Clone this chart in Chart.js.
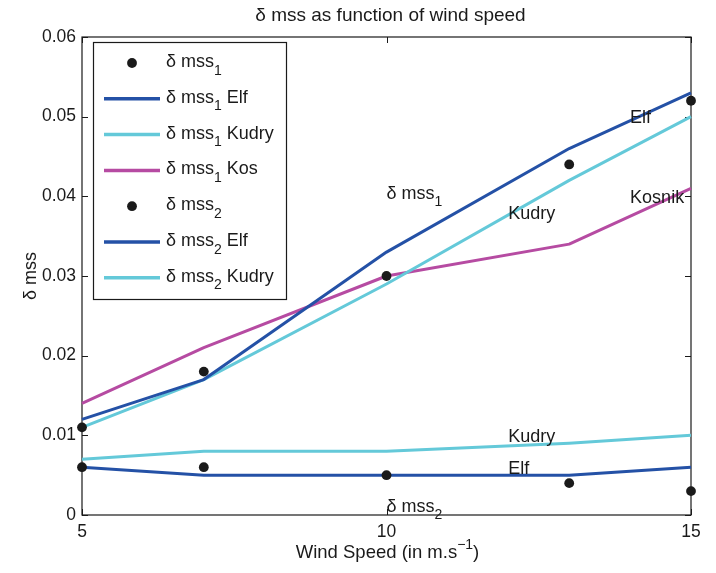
<!DOCTYPE html>
<html>
<head>
<meta charset="utf-8">
<script src="https://cdn.jsdelivr.net/npm/chart.js@4/dist/chart.umd.min.js"></script>
<style>
  html, body { margin: 0; padding: 0; background: #ffffff; }
  canvas { display: block; }
</style>
</head>
<body>
<canvas id="c" width="716" height="573"></canvas>
<script>
// Wind speed (m/s) at which each quantity is evaluated
const windSpeed = [5, 7, 10, 13, 15];

// Measured delta-mss, first and second components
const mss1Measured = [0.011, 0.018, 0.030, 0.044, 0.052];
const mss2Measured = [0.006, 0.006, 0.005, 0.004, 0.003];

// Model curves
const mss1Elf   = [0.012, 0.017, 0.033, 0.046, 0.053];
const mss1Kudry = [0.011, 0.017, 0.029, 0.042, 0.050];
const mss1Kos   = [0.014, 0.021, 0.030, 0.034, 0.041];
const mss2Elf   = [0.006, 0.005, 0.005, 0.005, 0.006];
const mss2Kudry = [0.007, 0.008, 0.008, 0.009, 0.010];

// Axis ticks
const xTicks = [5, 10, 15];
const yTicks = [0, 0.01, 0.02, 0.03, 0.04, 0.05, 0.06];

// In-plot labels: [x, y, segments]
const curveLabels = [
  [10, 0.0405, [{t: 'δ mss'}, {t: '1', sub: true}]],
  [12, 0.038, [{t: 'Kudry'}]],
  [14, 0.050, [{t: 'Elf'}]],
  [14, 0.040, [{t: 'Kosnik'}]],
  [12, 0.010, [{t: 'Kudry'}]],
  [12, 0.006, [{t: 'Elf'}]],
  [10, 0.00125, [{t: 'δ mss'}, {t: '2', sub: true}]]
];

const COL_ELF = '#2451a6';
const COL_KUDRY = '#64c9d9';
const COL_KOS = '#b64ba2';
const COL_DOT = '#1a1a1a';
const FONT = "'Liberation Sans', Arial, Helvetica, sans-serif";
const TEXT = '#1a1a1a';

const pts = ys => windSpeed.map((x, i) => ({x: x, y: ys[i]}));

function lineSet(label, ys, color) {
  return {
    label: label, data: pts(ys), borderColor: color, backgroundColor: color,
    borderWidth: 3, pointRadius: 0, tension: 0, clip: false, order: 1,
    borderJoinStyle: 'round'
  };
}
function dotSet(label, ys) {
  return {
    label: label, data: pts(ys), showLine: false, pointRadius: 4.9,
    pointBackgroundColor: COL_DOT, pointBorderColor: COL_DOT, pointBorderWidth: 0,
    clip: false, order: 0
  };
}

const datasets = [
  dotSet('mss1', mss1Measured),
  lineSet('mss1 Elf', mss1Elf, COL_ELF),
  lineSet('mss1 Kudry', mss1Kudry, COL_KUDRY),
  lineSet('mss1 Kos', mss1Kos, COL_KOS),
  dotSet('mss2', mss2Measured),
  lineSet('mss2 Elf', mss2Elf, COL_ELF),
  lineSet('mss2 Kudry', mss2Kudry, COL_KUDRY)
];

// Legend rows: segments and marker kind
const legendRows = [
  {kind: 'dot', seg: [{t: 'δ mss'}, {t: '1', sub: true}]},
  {kind: 'line', color: COL_ELF, seg: [{t: 'δ mss'}, {t: '1', sub: true}, {t: ' Elf'}]},
  {kind: 'line', color: COL_KUDRY, seg: [{t: 'δ mss'}, {t: '1', sub: true}, {t: ' Kudry'}]},
  {kind: 'line', color: COL_KOS, seg: [{t: 'δ mss'}, {t: '1', sub: true}, {t: ' Kos'}]},
  {kind: 'dot', seg: [{t: 'δ mss'}, {t: '2', sub: true}]},
  {kind: 'line', color: COL_ELF, seg: [{t: 'δ mss'}, {t: '2', sub: true}, {t: ' Elf'}]},
  {kind: 'line', color: COL_KUDRY, seg: [{t: 'δ mss'}, {t: '2', sub: true}, {t: ' Kudry'}]}
];

// Draws text with sub/superscript segments; y is the vertical middle of the main text
function drawRich(ctx, segs, x, y, align, size) {
  const small = Math.round(size * 0.76);
  let w = 0;
  segs.forEach(s => {
    ctx.font = ((s.sub || s.sup) ? small : size) + 'px ' + FONT;
    s.w = ctx.measureText(s.t).width;
    w += s.w;
  });
  let cx = align === 'center' ? x - w / 2 : (align === 'right' ? x - w : x);
  ctx.textAlign = 'left';
  ctx.textBaseline = 'alphabetic';
  const base = y + size * 0.36;
  segs.forEach(s => {
    ctx.font = ((s.sub || s.sup) ? small : size) + 'px ' + FONT;
    let by = base;
    if (s.sub) by = base + size * 0.42;
    if (s.sup) by = base - size * 0.45;
    ctx.fillText(s.t, cx, by);
    cx += s.w;
  });
}

const decor = {
  id: 'decor',
  beforeDraw(chart) {
    const ctx = chart.ctx;
    ctx.save();
    ctx.fillStyle = '#ffffff';
    ctx.fillRect(0, 0, chart.width, chart.height);
    ctx.restore();
  },
  beforeDatasetsDraw(chart) {
    const ctx = chart.ctx;
    const a = chart.chartArea;
    const xs = chart.scales.x, ys = chart.scales.y;
    ctx.save();
    ctx.strokeStyle = '#1a1a1a';
    ctx.lineWidth = 1.2;
    ctx.strokeRect(a.left, a.top, a.right - a.left, a.bottom - a.top);
    ctx.lineWidth = 1;
    const tl = 6;
    ctx.beginPath();
    xTicks.forEach(v => {
      const px = Math.round(xs.getPixelForValue(v)) + 0.5;
      ctx.moveTo(px, a.bottom); ctx.lineTo(px, a.bottom - tl);
      ctx.moveTo(px, a.top); ctx.lineTo(px, a.top + tl);
    });
    yTicks.forEach(v => {
      const py = Math.round(ys.getPixelForValue(v)) + 0.5;
      ctx.moveTo(a.left, py); ctx.lineTo(a.left + tl, py);
      ctx.moveTo(a.right, py); ctx.lineTo(a.right - tl, py);
    });
    ctx.stroke();
    ctx.restore();
  },
  afterDatasetsDraw(chart) {
    const ctx = chart.ctx;
    const a = chart.chartArea;
    const xs = chart.scales.x, ys = chart.scales.y;
    ctx.save();
    ctx.fillStyle = TEXT;

    // curve labels
    curveLabels.forEach(([x, y, segs]) => {
      drawRich(ctx, segs, xs.getPixelForValue(x), ys.getPixelForValue(y), 'left', 18);
    });

    // title
    drawRich(ctx, [{t: 'δ mss as function of wind speed'}], (a.left + a.right) / 2 + 4, 14, 'center', 19);

    // x axis title
    drawRich(ctx, [{t: 'Wind Speed (in m.s'}, {t: '−1', sup: true}, {t: ')'}], (a.left + a.right) / 2 + 1, 551, 'center', 18.5);

    // y axis title
    ctx.save();
    ctx.translate(30, (a.top + a.bottom) / 2);
    ctx.rotate(-Math.PI / 2);
    drawRich(ctx, [{t: 'δ mss'}], 0, 0, 'center', 18);
    ctx.restore();

    // legend box
    const bx = 93, by = 42, bw = 193, bh = 257;
    ctx.fillStyle = '#ffffff';
    ctx.fillRect(bx, by, bw, bh);
    ctx.strokeStyle = '#1a1a1a';
    ctx.lineWidth = 1.2;
    ctx.strokeRect(bx + 0.5, by + 0.5, bw, bh);
    legendRows.forEach((r, i) => {
      const cy = 61 + i * 35.8;
      if (r.kind === 'dot') {
        ctx.fillStyle = COL_DOT;
        ctx.beginPath();
        ctx.arc(132, cy + 2, 4.9, 0, Math.PI * 2);
        ctx.fill();
      } else {
        ctx.strokeStyle = r.color;
        ctx.lineWidth = 3.5;
        ctx.beginPath();
        ctx.moveTo(104, cy + 2);
        ctx.lineTo(160, cy + 2);
        ctx.stroke();
      }
      ctx.fillStyle = TEXT;
      drawRich(ctx, r.seg, 166, cy - 0.5, 'left', 18);
    });
    ctx.restore();
  }
};

new Chart(document.getElementById('c'), {
  type: 'line',
  data: { datasets: datasets },
  options: {
    responsive: false,
    animation: false,
    devicePixelRatio: 1,
    layout: { padding: { left: 0, right: 25, top: 37, bottom: 0 } },
    plugins: { legend: { display: false }, title: { display: false }, tooltip: { enabled: false } },
    scales: {
      x: {
        type: 'linear', min: 5, max: 15,
        afterFit(s) { s.height = 58; },
        afterBuildTicks(s) { s.ticks = xTicks.map(v => ({value: v})); },
        grid: { display: false, drawTicks: false },
        border: { display: false },
        ticks: { padding: 7, color: TEXT, font: { family: FONT, size: 17.5 }, maxRotation: 0,
                  callback: v => String(v) }
      },
      y: {
        type: 'linear', min: 0, max: 0.06,
        afterFit(s) { s.width = 82; },
        afterBuildTicks(s) { s.ticks = yTicks.map(v => ({value: v})); },
        grid: { display: false, drawTicks: false },
        border: { display: false },
        ticks: { padding: 6, color: TEXT, font: { family: FONT, size: 17.5 },
                 callback: v => v === 0 ? '0' : v.toFixed(2) }
      }
    }
  },
  plugins: [decor]
});
</script>
</body>
</html>
